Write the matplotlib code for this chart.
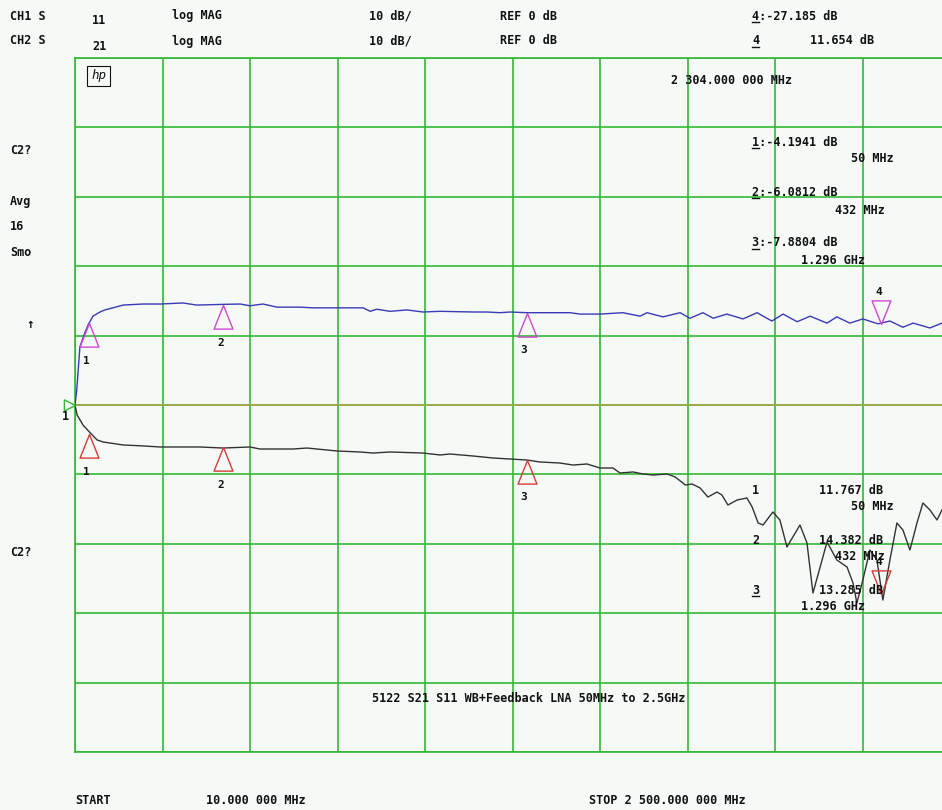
import numpy as np
import matplotlib
matplotlib.use("Agg")
import matplotlib.pyplot as plt
from matplotlib.lines import Line2D

# CH2: S21 (gain) trace, freq in MHz, level in dB
s21_freq = [10, 15, 24, 38, 47, 61, 81, 95, 118, 147, 204, 252, 317, 357, 431, 480, 508,
            545, 585, 650, 687, 756, 830, 850, 869, 906, 955, 1000, 1049, 1143, 1182,
            1219, 1248, 1296, 1353, 1419, 1447, 1504, 1569, 1618, 1638, 1683, 1732,
            1760, 1797, 1826, 1865, 1911, 1951, 1993, 2025, 2065, 2102, 2150, 2178,
            2215, 2252, 2295, 2329, 2366, 2395, 2443, 2477, 2500]
s21_db = [0.0, 2.2, 8.4, 10.4, 11.5, 12.8, 13.4, 13.7, 14.0, 14.4, 14.55, 14.55, 14.7,
          14.4, 14.5, 14.55, 14.3, 14.55, 14.1, 14.1, 14.0, 14.0, 14.0, 13.5, 13.8, 13.5,
          13.7, 13.4, 13.5, 13.4, 13.4, 13.3, 13.4, 13.3, 13.3, 13.3, 13.1, 13.1, 13.3,
          12.8, 13.3, 12.7, 13.3, 12.5, 13.3, 12.5, 13.1, 12.4, 13.3, 12.1, 13.1, 12.0,
          12.8, 11.8, 12.7, 11.8, 12.4, 11.7, 12.1, 11.2, 11.8, 11.1, 11.8, 11.4]

# CH1: S11 (return loss) trace
s11_freq = [10, 16, 33, 53, 73, 90, 147, 204, 252, 366, 431, 508, 536, 630, 670, 756,
            821, 858, 906, 1000, 1049, 1077, 1143, 1200, 1248, 1296, 1333, 1390, 1427,
            1467, 1504, 1541, 1561, 1598, 1626, 1655, 1695, 1718, 1747, 1766, 1789,
            1811, 1837, 1851, 1868, 1894, 1922, 1937, 1954, 1968, 1996, 2016, 2036,
            2073, 2093, 2110, 2136, 2150, 2178, 2207, 2224, 2235, 2252, 2272, 2292,
            2309, 2329, 2349, 2366, 2386, 2406, 2423, 2443, 2463, 2477, 2500]
s11_db = [0.0, -1.44, -2.9, -4.0, -5.04, -5.33, -5.76, -5.9, -6.05, -6.05, -6.2, -6.05,
          -6.34, -6.34, -6.2, -6.63, -6.77, -6.92, -6.77, -6.92, -7.2, -7.06, -7.35,
          -7.64, -7.78, -7.93, -8.21, -8.36, -8.65, -8.5, -9.08, -9.08, -9.8, -9.65,
          -9.94, -10.09, -9.94, -10.37, -11.53, -11.38, -11.96, -13.26, -12.54, -12.97,
          -14.41, -13.69, -13.4, -14.7, -17.0, -17.29, -15.42, -16.57, -20.46, -17.29,
          -19.88, -27.09, -22.33, -19.74, -22.33, -23.34, -25.65, -28.53, -25.22,
          -20.89, -22.33, -28.1, -22.33, -17.0, -18.01, -20.89, -17.0, -14.12, -15.13,
          -16.57, -15.13, -13.7]

# markers: frequency (MHz) and read-out values
mk_freq = [50, 432, 1296, 2304]
mk_s21 = [11.767, 14.382, 13.285, 11.654]
mk_s11 = [-4.1941, -6.0812, -7.8804, -27.185]

BG = "#f5faf7"
GRID = "#33b833"
REFC = "#a8a84a"
BLUE = "#3a3ab4"
BLACK = "#333333"
MAG = "#d048d0"
RED = "#d83a3a"

W, H = 942, 810
fig = plt.figure(figsize=(W / 100, H / 100), dpi=100, facecolor=BG)
ax = fig.add_axes([75 / W, 1 - 752 / H, 875 / W, 694 / H], facecolor=BG)
ax.set_xlim(10, 2500)
ax.set_ylim(-50, 50)
ax.set_xticks(np.linspace(10, 2500, 11))
ax.set_yticks(np.arange(-50, 51, 10))
ax.tick_params(length=0, labelbottom=False, labelleft=False)
ax.grid(True, color=GRID, lw=1.2)
for s in ax.spines.values():
    s.set_color(GRID)
    s.set_linewidth(1.2)
ax.axhline(0, color=REFC, lw=1.2, zorder=2.6)

ax.plot(s21_freq, s21_db, color=BLUE, lw=1.0, zorder=3)
ax.plot(s11_freq, s11_db, color=BLACK, lw=1.0, zorder=3)

# triangle markers with tip on the trace
up = [(0, 0), (-0.4, -1), (0.4, -1), (0, 0)]
down = [(0, 0), (-0.4, 1), (0.4, 1), (0, 0)]
for i, (f, a, b) in enumerate(zip(mk_freq, mk_s21, mk_s11)):
    v = down if i == 3 else up
    ax.plot([f], [a], marker=v, ms=34, mfc="none", mec=MAG, mew=1.0, zorder=4)
    ax.plot([f], [b], marker=v, ms=34, mfc="none", mec=RED, mew=1.0, zorder=4)
    dy = 23 if i == 3 else -27
    for val in (a, b):
        ax.annotate(str(i + 1), (f, val), xytext=(-2, dy), textcoords="offset points",
                    ha="center", va="center", family="DejaVu Sans Mono",
                    weight="bold", fontsize=8, color="#111111", zorder=5)

# reference position arrow at left edge
ax.plot([10], [0], marker=[(0, 0), (-1, 0.5), (-1, -0.5), (0, 0)], ms=16, mfc="none",
        mec=GRID, mew=1.0, clip_on=False, zorder=5)

FONT = dict(family="DejaVu Sans Mono", weight="bold", fontsize=8.5, color="#111111",
            va="center")


def txt(x, y, s, **kw):
    d = dict(FONT)
    d.update(kw)
    fig.text(x / W, 1 - y / H, s, **d)


def uline(x, y, n=1):
    fig.add_artist(Line2D([x / W, (x + 7 * n) / W], [1 - (y + 6) / H] * 2,
                          color="#111111", lw=1.0))


# header
txt(10, 16, "CH1 S")
txt(92, 21, "11")
txt(172, 16, "log MAG")
txt(369, 16, "10 dB/")
txt(500, 16, "REF 0 dB")
txt(752, 16, "4:-27.185 dB")
uline(752, 16)
txt(10, 41, "CH2 S")
txt(92, 47, "21")
txt(172, 41, "log MAG")
txt(369, 41, "10 dB/")
txt(500, 41, "REF 0 dB")
txt(752, 41, "4")
uline(752, 41)
txt(810, 41, "11.654 dB")

# left annotations
txt(10, 151, "C2?")
txt(10, 202, "Avg")
txt(10, 227, "16")
txt(10, 252, "Smo")
txt(26, 325, "\u2191", fontsize=9)
txt(10, 553, "C2?")
txt(62, 416, "1")

# hp logo
txt(91, 76, "hp", style="italic", fontsize=9, weight="normal",
    bbox=dict(boxstyle="square,pad=0.3", fc="none", ec="#111111", lw=0.8))

# marker readouts
txt(671, 80, "2 304.000 000 MHz")
txt(752, 142, "1:-4.1941 dB")
uline(752, 142)
txt(851, 159, "50 MHz")
txt(752, 192, "2:-6.0812 dB")
uline(752, 192)
txt(835, 210, "432 MHz")
txt(752, 243, "3:-7.8804 dB")
uline(752, 243)
txt(801, 261, "1.296 GHz")

txt(752, 490, "1")
txt(819, 490, "11.767 dB")
txt(851, 507, "50 MHz")
txt(752, 540, "2")
txt(819, 540, "14.382 dB")
txt(835, 557, "432 MHz")
txt(752, 590, "3")
uline(752, 590)
txt(819, 590, "13.285 dB")
txt(801, 606, "1.296 GHz")

txt(372, 698, "5122 S21 S11 WB+Feedback LNA 50MHz to 2.5GHz")

txt(75, 800, "START")
txt(206, 800, "10.000 000 MHz")
txt(589, 800, "STOP 2 500.000 000 MHz")

fig.savefig("out.png", dpi=100, facecolor=BG)
